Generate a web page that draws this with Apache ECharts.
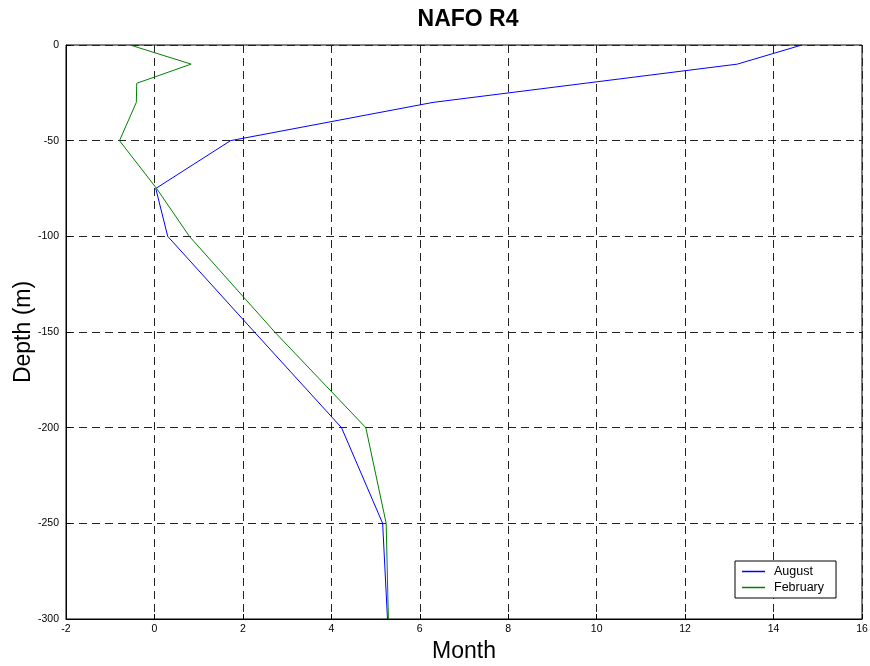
<!DOCTYPE html>
<html>
<head>
<meta charset="utf-8">
<script src="https://cdn.jsdelivr.net/npm/echarts@6/dist/echarts.min.js"></script>
<style>
html,body{margin:0;padding:0;background:#fff;}
#chart{width:870px;height:666px;}
</style>
</head>
<body>
<div id="chart"></div>
<script>
var depths = [0, -10, -20, -30, -50, -75, -100, -150, -200, -250, -300];
var august = [14.64, 13.18, 9.74, 6.3, 1.72, 0.03, 0.30, 2.26, 4.23, 5.16, 5.27];
var february = [-0.55, 0.83, -0.40, -0.41, -0.79, 0.05, 0.79, 2.72, 4.78, 5.24, 5.29];
var seriesNames = ['August', 'February'];
var seriesColors = ['#0000ff', '#008000'];

function pairs(vals) {
  return vals.map(function (v, i) { return [v, depths[i]]; });
}

var font = 'Liberation Sans, Arial, sans-serif';
var chart = echarts.init(document.getElementById('chart'));
chart.setOption({
  animation: false,
  backgroundColor: '#fff',
  title: {
    text: 'NAFO R4',
    left: 468, top: 8, textAlign: 'center', padding: 0,
    textStyle: { fontFamily: font, fontSize: 23, fontWeight: 'bold', color: '#000' }
  },
  grid: {
    left: 66, right: 8, top: 45, bottom: 47,
    outerBoundsMode: 'none', containLabel: false,
    show: true, borderColor: '#000', borderWidth: 1
  },
  legend: {
    orient: 'vertical',
    left: 735, top: 561,
    padding: [3, 12, 3, 7],
    itemGap: 1,
    icon: 'rect',
    itemWidth: 23, itemHeight: 1.5,
    borderColor: '#000', borderWidth: 1,
    backgroundColor: '#fff',
    textStyle: { fontFamily: font, fontSize: 12.5, lineHeight: 15, color: '#000', padding: [0, 0, 0, 4] },
    data: seriesNames.map(function (n, i) {
      return { name: n, itemStyle: { color: seriesColors[i], borderWidth: 0, opacity: 1 } };
    })
  },
  xAxis: {
    type: 'value', min: -2, max: 16, interval: 2,
    name: 'Month', nameLocation: 'middle', nameGap: 21, nameMoveOverlap: false,
    nameTextStyle: { fontFamily: font, fontSize: 23, color: '#000' },
    axisLine: { show: true, onZero: false, lineStyle: { color: '#000' } },
    axisTick: { show: true, inside: true, length: 5, lineStyle: { color: '#000' } },
    axisLabel: { fontFamily: font, fontSize: 10.5, color: '#000', margin: 5 },
    splitLine: { show: true, lineStyle: { color: '#222', type: [8, 5], width: 1 } }
  },
  yAxis: {
    type: 'value', min: -300, max: 0, interval: 50,
    name: 'Depth (m)', nameLocation: 'middle', nameGap: 31, nameMoveOverlap: false,
    nameTextStyle: { fontFamily: font, fontSize: 23, color: '#000' },
    axisLine: { show: true, onZero: false, lineStyle: { color: '#000' } },
    axisTick: { show: true, inside: true, length: 5, lineStyle: { color: '#000' } },
    axisLabel: { fontFamily: font, fontSize: 10.5, color: '#000', margin: 7 },
    splitLine: { show: true, lineStyle: { color: '#222', type: [8, 5], width: 1 } }
  },
  series: [
    {
      name: seriesNames[0], type: 'line', data: pairs(august),
      symbol: 'none', lineStyle: { color: seriesColors[0], width: 1 },
      itemStyle: { color: seriesColors[0] }
    },
    {
      name: seriesNames[1], type: 'line', data: pairs(february),
      symbol: 'none', lineStyle: { color: seriesColors[1], width: 1 },
      itemStyle: { color: seriesColors[1] }
    }
  ]
});
</script>
</body>
</html>
